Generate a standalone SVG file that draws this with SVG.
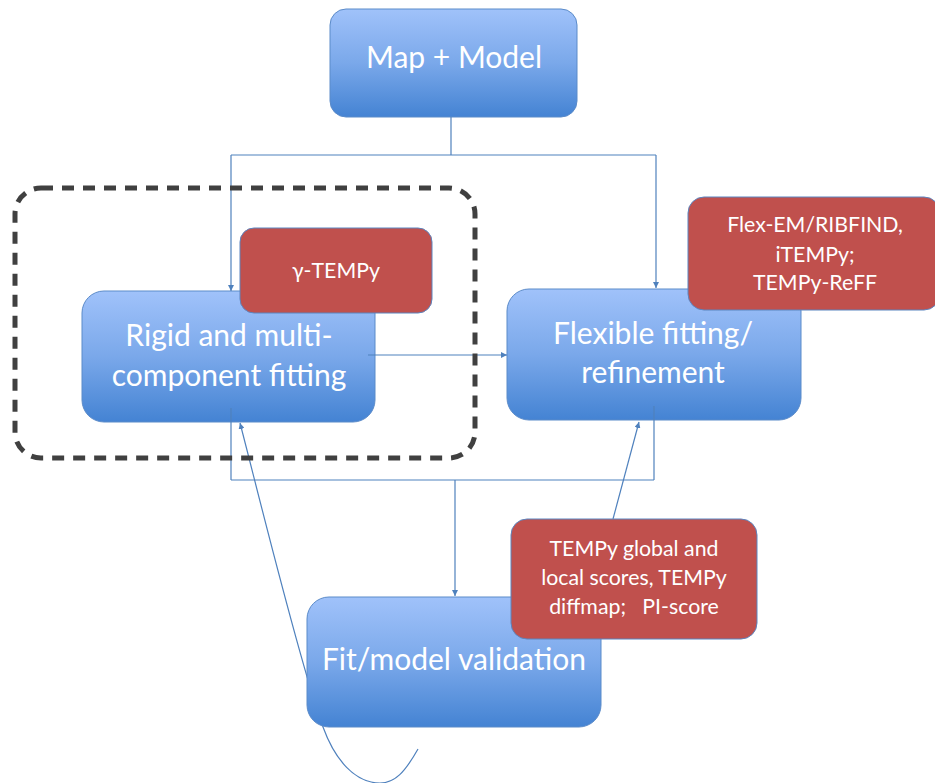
<svg xmlns="http://www.w3.org/2000/svg" width="935" height="783" viewBox="0 0 935 783">
<defs>
<linearGradient id="blueGrad" x1="0" y1="0" x2="0" y2="1">
<stop offset="0" stop-color="#A0C2FA"/>
<stop offset="0.5" stop-color="#7AA8EA"/>
<stop offset="1" stop-color="#4483D3"/>
</linearGradient>
<marker id="arr" viewBox="0 0 6 6" refX="6" refY="3" markerWidth="6" markerHeight="6" markerUnits="userSpaceOnUse" orient="auto">
<path d="M0,0 L6,3 L0,6 Z" fill="#4F81BD"/>
</marker>
<style>
.blue{fill:url(#blueGrad);stroke:#5B8BC9;stroke-width:1}
.red{fill:#C0504D;stroke:#5B85C0;stroke-width:1}
.big{font-family:Lato,"Liberation Sans",sans-serif;font-size:30px;fill:#FFFFFF;text-anchor:middle}
.small{font-family:Lato,"Liberation Sans",sans-serif;font-size:21.3px;fill:#FFFFFF;text-anchor:middle}
.con{fill:none;stroke:#4F81BD;stroke-width:1.2}
</style>
</defs>
<rect width="935" height="783" fill="#FFFFFF"/>

<g id="node-map-model">
<rect class="blue" x="330" y="9" width="247" height="108" rx="16"/>
<text class="big" x="454" y="68">Map + Model</text>
</g>

<g id="node-rigid">
<rect class="blue" x="82" y="291" width="293" height="131" rx="22"/>
<text class="big" x="229" y="346">Rigid and multi-</text>
<text class="big" x="229" y="386">component fitting</text>
</g>

<g id="node-flexible">
<rect class="blue" x="507" y="289" width="294" height="131" rx="22"/>
<text class="big" x="653" y="344">Flexible fitting/</text>
<text class="big" x="653" y="383">refinement</text>
</g>

<g id="connectors">
<path class="con" d="M451,117 L451,155"/>
<path class="con" d="M231,155 L656,155"/>
<path class="con" d="M231,155 L231,291" marker-end="url(#arr)"/>
<path class="con" d="M656,155 L656,288" marker-end="url(#arr)"/>
<path class="con" d="M368,355 L507,355" marker-end="url(#arr)"/>
<path class="con" d="M231,408 L231,480"/>
<path class="con" d="M654,406 L654,480"/>
<path class="con" d="M231,480 L654,480"/>
<path class="con" d="M455,480 L455,596" marker-end="url(#arr)"/>
<path class="con" d="M418,749 C405,772 395,783 380,783 C355,783 335,760 323,727 C300,665 255,480 240,423" marker-end="url(#arr)"/>
<path class="con" d="M613,519 L639,422" marker-end="url(#arr)"/>
</g>

<g id="node-fit-validation">
<rect class="blue" x="307" y="597" width="294" height="130" rx="22"/>
<text class="big" x="454" y="670">Fit/model validation</text>
</g>

<g id="node-gamma-tempy">
<rect class="red" x="240" y="228" width="192" height="85" rx="14"/>
<text class="small" x="336" y="278">γ-TEMPy</text>
</g>

<g id="node-flex-em">
<rect class="red" x="688" y="197" width="252" height="113" rx="16"/>
<text class="small" x="815" y="232">Flex-EM/RIBFIND,</text>
<text class="small" x="815" y="262">iTEMPy;</text>
<text class="small" x="815" y="290">TEMPy-ReFF</text>
</g>

<g id="node-tempy-scores">
<rect class="red" x="511" y="519" width="246" height="120" rx="16"/>
<text class="small" x="634" y="556">TEMPy global and</text>
<text class="small" x="634" y="585">local scores, TEMPy</text>
<text class="small" x="634" y="614" xml:space="preserve">diffmap;   PI-score</text>
</g>

<g id="group-rigid-dashed">
<rect x="15" y="188" width="460" height="270" rx="26" fill="none" stroke="#404040" stroke-width="5" stroke-dasharray="12 9"/>
</g>
</svg>
